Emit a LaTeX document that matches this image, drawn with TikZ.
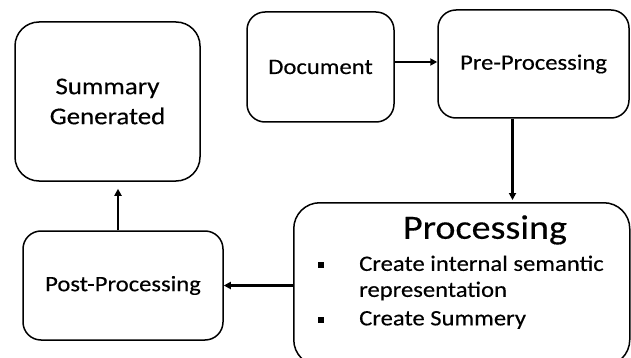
\documentclass[tikz,border=0pt]{standalone}
\usepackage{fontspec}
\setmainfont{Carlito}[FakeStretch=1.12,FakeBold=0.35]
\usetikzlibrary{arrows.meta}
\begin{document}
\begin{tikzpicture}[x=1pt,y=-1pt,
    box/.style={draw,line width=1.5pt,rounded corners=18pt,inner sep=0pt,align=center,
        font=\fontsize{22}{30}\selectfont},
    arr/.style={line width=2.2pt,-{Triangle[length=7pt,width=7pt]}},
    bullet/.style={fill,minimum size=6pt,inner sep=0pt}]
    \useasboundingbox (0,0) rectangle (631,358);
    \node[box,minimum width=185pt,minimum height=159pt,rounded corners=24pt,
        font=\fontsize{24}{30}\selectfont] (summ) at (107.5,101.5) {Summary\\Generated};
    \node[box,minimum width=147pt,minimum height=110pt] (doc) at (320.5,67) {Document};
    \node[box,minimum width=191pt,minimum height=108pt] (pre) at (533.5,64) {Pre-Processing};
    \node[box,minimum width=336pt,minimum height=163pt,rounded corners=26pt,anchor=north west]
        (proc) at (293,202) {};
    \node[box,minimum width=200pt,minimum height=109pt] (post) at (123,285.5) {Post-Processing};
    % processing box contents
    \node[font=\fontsize{34}{40}\selectfont,inner sep=0pt] (title) at (485,230) {Processing};
    \node[bullet] (b1) at (321,265) {};
    \node[bullet] (b2) at (321,320) {};
    \node[anchor=west,align=left,inner sep=0pt,font=\fontsize{22}{26}\selectfont] (item1)
        at (359,278) {Create internal semantic\\representation};
    \node[anchor=west,inner sep=0pt,font=\fontsize{22}{26}\selectfont] (item2)
        at (359,320) {Create Summery};
    % connectors
    \draw[arr,line width=2.8pt] ([yshift=5pt]doc.east) -- ([yshift=2pt]pre.west);
    \draw[arr,shorten >=2pt] ([xshift=-21pt]pre.south) -- ([xshift=-21pt]pre.south |- proc.north);
    \draw[arr] (proc.west |- post) -- (post.east);
    \draw[arr,shorten >=7pt] ([xshift=-5pt]post.north) -- ([xshift=-5pt]post.north |- summ.south);
\end{tikzpicture}
\end{document}
